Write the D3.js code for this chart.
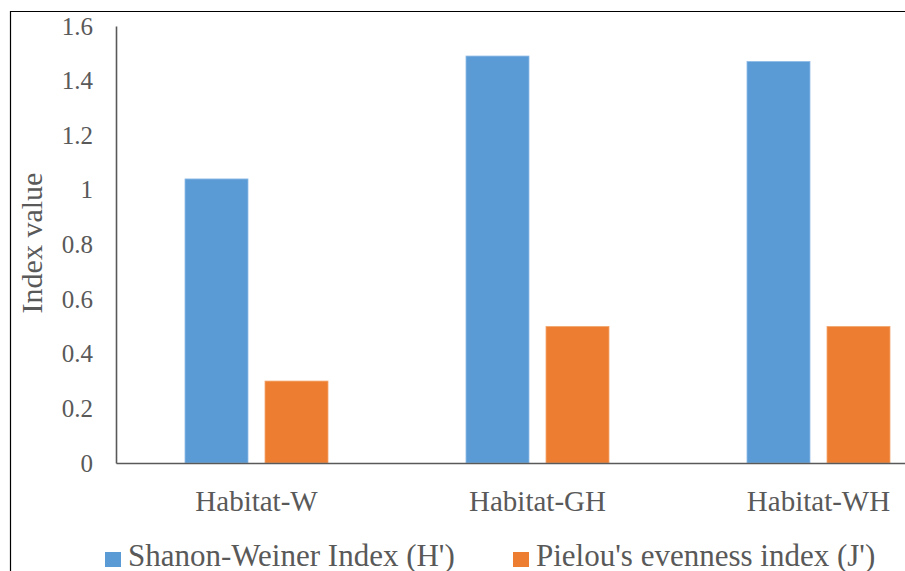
<!DOCTYPE html>
<meta charset="utf-8">
<script src="https://d3js.org/d3.v7.min.js"></script>
<style>
  body { margin: 0; background: #fff; }
  svg text { font-family: "Liberation Serif", "Times New Roman", serif !important; fill: #595959; }
</style>
<div id="my_dataviz"></div>
<script>

// data
const categories = ["Habitat-W", "Habitat-GH", "Habitat-WH"];
const seriesNames = ["Shanon-Weiner Index (H')", "Pielou's evenness index (J')"];
const shannon = [1.04, 1.49, 1.47];
const pielou = [0.30, 0.50, 0.50];
const yTicks = [0, 0.2, 0.4, 0.6, 0.8, 1, 1.2, 1.4, 1.6];

const colors = ["#5B9BD5", "#ED7D31"];
const serif = "'Liberation Serif', 'Times New Roman', serif";
const W = 905, H = 571;

const svg = d3.select("#my_dataviz")
  .append("svg")
    .attr("width", W)
    .attr("height", H)
    .attr("font-family", serif);

// outer frame (only left and top edges are in the picture)
svg.append("path")
  .attr("d", "M10.5,571 V11.5 H905")
  .attr("fill", "none")
  .attr("stroke", "#000")
  .attr("stroke-width", 1.2);

// plot area runs past the right edge of the picture
const plotLeft = 116, plotRight = 959, plotTop = 26, plotBottom = 463;

const x0 = d3.scaleBand()
  .domain(categories)
  .range([plotLeft, plotRight]);

const x1 = d3.scaleBand()
  .domain(seriesNames)
  .range([0, 143])
  .paddingInner(0.2125);

const y = d3.scaleLinear()
  .domain([0, 1.6])
  .range([plotBottom, plotTop]);

const rows = categories.map((c, i) => ({cat: c, vals: [shannon[i], pielou[i]]}));

// bars
const groups = svg.selectAll("g.grp")
  .data(rows)
  .enter()
  .append("g")
    .attr("transform", d => "translate(" + (x0(d.cat) + (x0.bandwidth() - 143) / 2) + ",0)");

groups.selectAll("rect")
  .data(d => d.vals.map((v, j) => ({v: v, s: seriesNames[j], j: j})))
  .enter()
  .append("rect")
    .attr("x", d => x1(d.s))
    .attr("y", d => y(d.v))
    .attr("width", x1.bandwidth())
    .attr("height", d => y(0) - y(d.v))
    .attr("fill", d => colors[d.j])
    .attr("stroke", d => d.j === 0 ? "#8fbbe6" : "#f3a66f")
    .attr("stroke-width", 0.8);

// y axis
const yAxis = d3.axisLeft(y)
  .tickValues(yTicks)
  .tickSize(0)
  .tickPadding(23)
  .tickFormat(d => d3.format("")(+d.toFixed(1)));

const gy = svg.append("g")
  .attr("transform", "translate(" + plotLeft + ",0)")
  .call(yAxis)
  .attr("font-family", serif);
gy.select(".domain").attr("stroke", "#595959").attr("stroke-width", 1.6);
gy.selectAll("text")
  .style("font-family", serif)
  .style("font-size", "25px")
  .attr("fill", "#595959");

// x axis
const xAxis = d3.axisBottom(x0).tickSize(0).tickPadding(27);
const gx = svg.append("g")
  .attr("transform", "translate(0," + plotBottom + ")")
  .call(xAxis)
  .attr("font-family", serif);
gx.select(".domain").attr("stroke", "#595959").attr("stroke-width", 1.6);
gx.selectAll("text")
  .style("font-family", serif)
  .style("font-size", "29px")
  .attr("fill", "#595959");

// y axis title
svg.append("text")
  .attr("transform", "translate(42,243) rotate(-90)")
  .attr("text-anchor", "middle")
  .style("font-family", serif)
  .style("font-size", "30px")
  .text("Index value");

// legend
const legendX = [105, 513];
seriesNames.forEach((name, i) => {
  svg.append("rect")
    .attr("x", legendX[i]).attr("y", 552)
    .attr("width", 16).attr("height", 15)
    .attr("fill", colors[i]);
  svg.append("text")
    .attr("x", legendX[i] + 23).attr("y", 566)
    .style("font-family", serif)
    .style("font-size", "31px")
    .text(name);
});
</script>
